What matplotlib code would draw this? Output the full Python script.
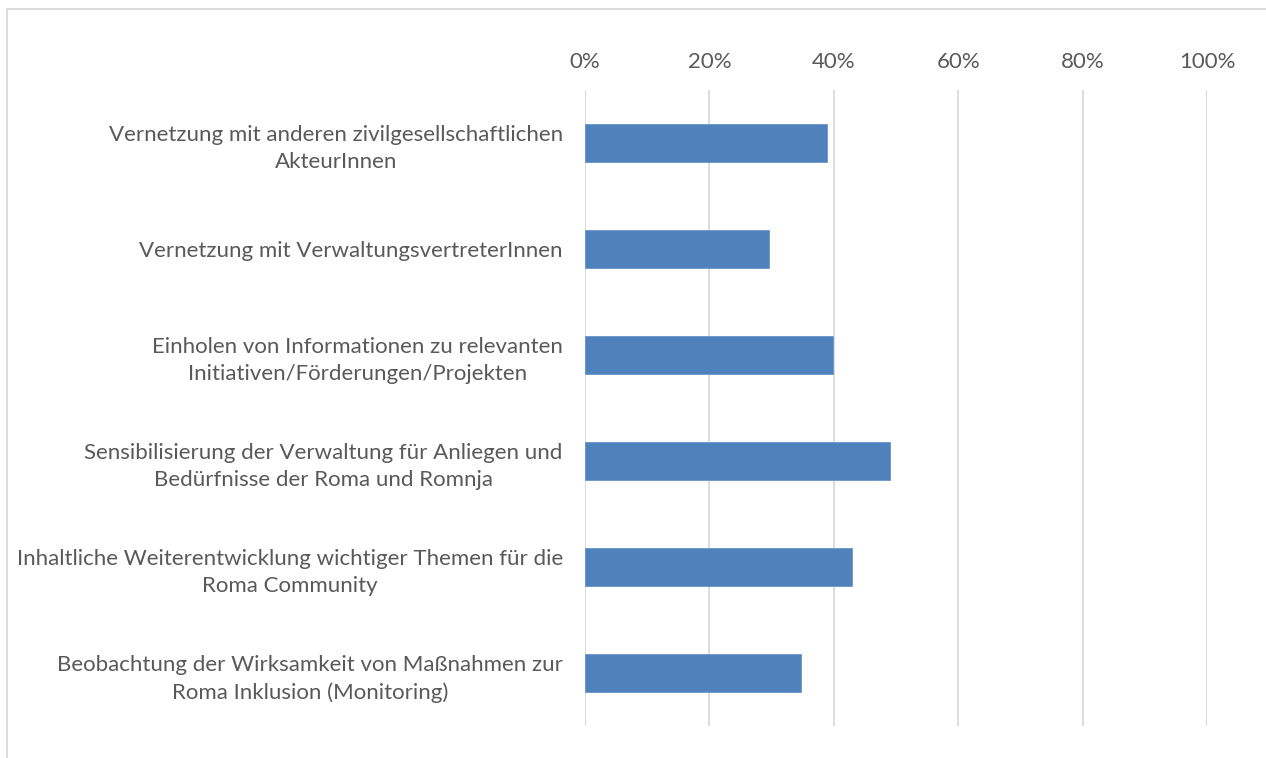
import matplotlib.pyplot as plt
import matplotlib.patches as mpatches
import numpy as np

categories = [
    "Vernetzung mit anderen zivilgesellschaftlichen\nAkteurInnen",
    "Vernetzung mit VerwaltungsvertreterInnen",
    "Einholen von Informationen zu relevanten\nInitiativen/Förderungen/Projekten",
    "Sensibilisierung der Verwaltung für Anliegen und\nBedürfnisse der Roma und Romnja",
    "Inhaltliche Weiterentwicklung wichtiger Themen für die\nRoma Community",
    "Beobachtung der Wirksamkeit von Maßnahmen zur\nRoma Inklusion (Monitoring)",
]
values = [0.389, 0.296, 0.398, 0.490, 0.429, 0.347]
ticks = [0, 0.2, 0.4, 0.6, 0.8, 1.0]
tick_labels = ["0%", "20%", "40%", "60%", "80%", "100%"]

plt.rcParams['font.family'] = ['Lato', 'DejaVu Sans']
W, H = 1266, 758
fig = plt.figure(figsize=(W / 100, H / 100), dpi=100, facecolor="white")

# outer chart border (right and bottom run off the image)
fig.patches.append(mpatches.Rectangle((7 / W, -0.05), 1.0, 1.05 - 9 / H,
                                      transform=fig.transFigure, fill=False,
                                      edgecolor="#d9d9d9", linewidth=1.3))

ax = fig.add_axes([585 / W, 1 - 726 / H, (1207 - 585) / W, (726 - 90) / H])
y = np.arange(len(categories))
ax.barh(y, values, height=0.355, color="#4f81bd", edgecolor="#6a95c9", linewidth=0.6, zorder=3)
ax.set_ylim(len(categories) - 0.5, -0.5)
ax.set_xlim(0, 1)
ax.set_xticks(ticks)
ax.set_xticklabels(tick_labels)
ax.xaxis.tick_top()
ax.tick_params(axis="x", length=0, pad=13, labelsize=16, labelcolor="#595959")
ax.set_yticks(y)
ax.set_yticklabels(categories, multialignment="center", linespacing=1.45)
ax.tick_params(axis="y", length=0, pad=16, labelsize=16, labelcolor="#595959")
ax.grid(axis="x", color="#d9d9d9", linewidth=1.3, zorder=0)
for s in ax.spines.values():
    s.set_visible(False)

fig.savefig("out.png", dpi=100)
